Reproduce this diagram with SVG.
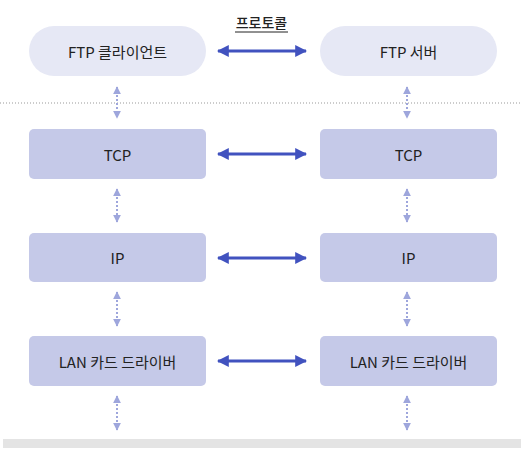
<svg xmlns="http://www.w3.org/2000/svg" width="522" height="452" viewBox="0 0 522 452">
<style>
.pill{fill:#e6e8f5}
.box{fill:#c5c9e8}
.t{font-family:"Noto Sans CJK KR","Noto Sans",sans-serif;font-size:15px;fill:#222;text-anchor:middle;dominant-baseline:central}
.main{stroke:#4152bf;stroke-width:3;fill:none}
.dot{stroke:#9ea6dc;stroke-width:2;stroke-dasharray:2 2;fill:none}
</style>
<defs>
<marker id="ah" viewBox="0 0 10 10" refX="9" refY="5" markerWidth="4" markerHeight="4" orient="auto-start-reverse" markerUnits="strokeWidth"><path d="M0,0 L10,5 L0,10 z" fill="#4152bf"/></marker>
<marker id="dh" viewBox="0 0 10 10" refX="9" refY="5" markerWidth="4" markerHeight="4" orient="auto-start-reverse" markerUnits="strokeWidth"><path d="M0,0 L10,5 L0,10 z" fill="#9ea6dc"/></marker>
</defs>
<line x1="0" y1="103" x2="522" y2="103" stroke="#999" stroke-width="1" stroke-dasharray="1 2"/>
<rect x="3" y="439" width="518" height="9" fill="#e4e4e4"/>
<g id="ftp-client"><rect class="pill" x="29" y="26" width="177" height="50" rx="25"/><text class="t" x="117.5" y="51">FTP 클라이언트</text></g>
<g id="ftp-server"><rect class="pill" x="320" y="26" width="177" height="50" rx="25"/><text class="t" x="408.5" y="51">FTP 서버</text></g>
<g id="tcp-left"><rect class="box" x="29" y="129" width="177" height="50" rx="5"/><text class="t" x="117.5" y="154">TCP</text></g>
<g id="tcp-right"><rect class="box" x="320" y="129" width="177" height="50" rx="5"/><text class="t" x="408.5" y="154">TCP</text></g>
<g id="ip-left"><rect class="box" x="29" y="233" width="177" height="49" rx="5"/><text class="t" x="117.5" y="257.5">IP</text></g>
<g id="ip-right"><rect class="box" x="320" y="233" width="177" height="49" rx="5"/><text class="t" x="408.5" y="257.5">IP</text></g>
<g id="lan-left"><rect class="box" x="29" y="336" width="177" height="50" rx="5"/><text class="t" x="117.5" y="361">LAN 카드 드라이버</text></g>
<g id="lan-right"><rect class="box" x="320" y="336" width="177" height="50" rx="5"/><text class="t" x="408.5" y="361">LAN 카드 드라이버</text></g>
<g id="protocol-label"><text class="t" x="261.5" y="22" style="font-size:14px;font-weight:500">프로토콜</text><line x1="235" y1="32" x2="288" y2="32" stroke="#222" stroke-width="1"/></g>
<g id="connectors">
<line class="main" x1="218" y1="51" x2="306" y2="51" marker-start="url(#ah)" marker-end="url(#ah)"/>
<line class="main" x1="218" y1="154" x2="306" y2="154" marker-start="url(#ah)" marker-end="url(#ah)"/>
<line class="main" x1="218" y1="258" x2="306" y2="258" marker-start="url(#ah)" marker-end="url(#ah)"/>
<line class="main" x1="218" y1="361" x2="306" y2="361" marker-start="url(#ah)" marker-end="url(#ah)"/>
<line class="dot" x1="117" y1="87" x2="117" y2="118" marker-start="url(#dh)" marker-end="url(#dh)"/>
<line class="dot" x1="407" y1="87" x2="407" y2="118" marker-start="url(#dh)" marker-end="url(#dh)"/>
<line class="dot" x1="117" y1="189" x2="117" y2="222" marker-start="url(#dh)" marker-end="url(#dh)"/>
<line class="dot" x1="407" y1="189" x2="407" y2="222" marker-start="url(#dh)" marker-end="url(#dh)"/>
<line class="dot" x1="117" y1="292" x2="117" y2="326" marker-start="url(#dh)" marker-end="url(#dh)"/>
<line class="dot" x1="407" y1="292" x2="407" y2="326" marker-start="url(#dh)" marker-end="url(#dh)"/>
<line class="dot" x1="117" y1="396" x2="117" y2="430" marker-start="url(#dh)" marker-end="url(#dh)"/>
<line class="dot" x1="407" y1="396" x2="407" y2="430" marker-start="url(#dh)" marker-end="url(#dh)"/>
</g>
</svg>
